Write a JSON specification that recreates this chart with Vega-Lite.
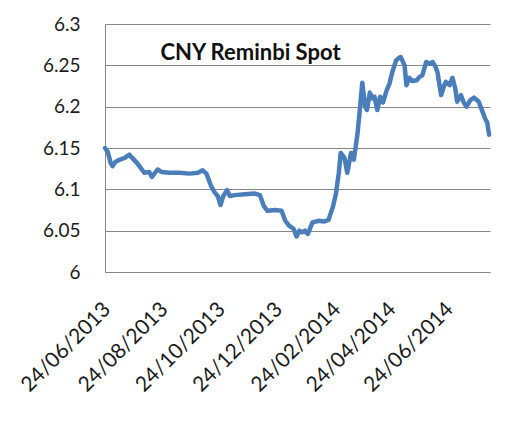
{
  "$schema": "https://vega.github.io/schema/vega-lite/v6.json",
  "width": 385,
  "height": 248,
  "autosize": "none",
  "padding": {"left": 105, "top": 24, "right": 37, "bottom": 159},
  "background": "white",
  "config": {
    "view": {"stroke": null},
    "font": "Lato",
    "axis": {"labelFont": "Lato", "labelColor": "#1a1a1a", "labelFontSize": 19, "ticks": false, "domainColor": "#868686", "gridColor": "#868686", "gridOpacity": 1, "gridWidth": 1, "title": null}
  },
  "datasets": {
    "cny": [
      {"date": "2013-06-24T00:00:00", "rate": 6.150},
      {"date": "2013-06-27T00:00:00", "rate": 6.145},
      {"date": "2013-06-30T00:00:00", "rate": 6.132},
      {"date": "2013-07-02T00:00:00", "rate": 6.128},
      {"date": "2013-07-05T00:00:00", "rate": 6.133},
      {"date": "2013-07-10T00:00:00", "rate": 6.136},
      {"date": "2013-07-15T00:00:00", "rate": 6.138},
      {"date": "2013-07-20T00:00:00", "rate": 6.142},
      {"date": "2013-07-23T00:00:00", "rate": 6.138},
      {"date": "2013-07-28T00:00:00", "rate": 6.132},
      {"date": "2013-08-01T00:00:00", "rate": 6.126},
      {"date": "2013-08-05T00:00:00", "rate": 6.120},
      {"date": "2013-08-10T00:00:00", "rate": 6.121},
      {"date": "2013-08-13T00:00:00", "rate": 6.115},
      {"date": "2013-08-15T00:00:00", "rate": 6.118},
      {"date": "2013-08-19T00:00:00", "rate": 6.124},
      {"date": "2013-08-23T00:00:00", "rate": 6.121},
      {"date": "2013-09-01T00:00:00", "rate": 6.120},
      {"date": "2013-09-11T00:00:00", "rate": 6.120},
      {"date": "2013-09-22T00:00:00", "rate": 6.119},
      {"date": "2013-10-01T00:00:00", "rate": 6.120},
      {"date": "2013-10-06T00:00:00", "rate": 6.123},
      {"date": "2013-10-10T00:00:00", "rate": 6.119},
      {"date": "2013-10-15T00:00:00", "rate": 6.104},
      {"date": "2013-10-19T00:00:00", "rate": 6.096},
      {"date": "2013-10-22T00:00:00", "rate": 6.092},
      {"date": "2013-10-25T00:00:00", "rate": 6.081},
      {"date": "2013-10-28T00:00:00", "rate": 6.092},
      {"date": "2013-11-01T00:00:00", "rate": 6.099},
      {"date": "2013-11-04T00:00:00", "rate": 6.092},
      {"date": "2013-11-09T00:00:00", "rate": 6.093},
      {"date": "2013-11-20T00:00:00", "rate": 6.094},
      {"date": "2013-11-30T00:00:00", "rate": 6.095},
      {"date": "2013-12-06T00:00:00", "rate": 6.093},
      {"date": "2013-12-10T00:00:00", "rate": 6.080},
      {"date": "2013-12-14T00:00:00", "rate": 6.074},
      {"date": "2013-12-22T00:00:00", "rate": 6.075},
      {"date": "2013-12-29T00:00:00", "rate": 6.074},
      {"date": "2014-01-02T00:00:00", "rate": 6.062},
      {"date": "2014-01-06T00:00:00", "rate": 6.056},
      {"date": "2014-01-11T00:00:00", "rate": 6.052},
      {"date": "2014-01-14T00:00:00", "rate": 6.043},
      {"date": "2014-01-17T00:00:00", "rate": 6.050},
      {"date": "2014-01-20T00:00:00", "rate": 6.048},
      {"date": "2014-01-23T00:00:00", "rate": 6.050},
      {"date": "2014-01-26T00:00:00", "rate": 6.046},
      {"date": "2014-01-31T00:00:00", "rate": 6.060},
      {"date": "2014-02-07T00:00:00", "rate": 6.062},
      {"date": "2014-02-12T00:00:00", "rate": 6.061},
      {"date": "2014-02-17T00:00:00", "rate": 6.063},
      {"date": "2014-02-22T00:00:00", "rate": 6.080},
      {"date": "2014-02-25T00:00:00", "rate": 6.095},
      {"date": "2014-02-28T00:00:00", "rate": 6.120},
      {"date": "2014-03-02T00:00:00", "rate": 6.144},
      {"date": "2014-03-06T00:00:00", "rate": 6.138},
      {"date": "2014-03-09T00:00:00", "rate": 6.120},
      {"date": "2014-03-13T00:00:00", "rate": 6.144},
      {"date": "2014-03-16T00:00:00", "rate": 6.136},
      {"date": "2014-03-20T00:00:00", "rate": 6.168},
      {"date": "2014-03-23T00:00:00", "rate": 6.204},
      {"date": "2014-03-25T00:00:00", "rate": 6.229},
      {"date": "2014-03-28T00:00:00", "rate": 6.200},
      {"date": "2014-03-30T00:00:00", "rate": 6.196},
      {"date": "2014-04-02T00:00:00", "rate": 6.217},
      {"date": "2014-04-05T00:00:00", "rate": 6.210},
      {"date": "2014-04-07T00:00:00", "rate": 6.212},
      {"date": "2014-04-10T00:00:00", "rate": 6.196},
      {"date": "2014-04-13T00:00:00", "rate": 6.212},
      {"date": "2014-04-16T00:00:00", "rate": 6.205},
      {"date": "2014-04-20T00:00:00", "rate": 6.220},
      {"date": "2014-04-23T00:00:00", "rate": 6.228},
      {"date": "2014-04-26T00:00:00", "rate": 6.242},
      {"date": "2014-04-30T00:00:00", "rate": 6.256},
      {"date": "2014-05-03T00:00:00", "rate": 6.259},
      {"date": "2014-05-05T00:00:00", "rate": 6.260},
      {"date": "2014-05-09T00:00:00", "rate": 6.250},
      {"date": "2014-05-11T00:00:00", "rate": 6.226},
      {"date": "2014-05-14T00:00:00", "rate": 6.235},
      {"date": "2014-05-17T00:00:00", "rate": 6.231},
      {"date": "2014-05-22T00:00:00", "rate": 6.232},
      {"date": "2014-05-25T00:00:00", "rate": 6.236},
      {"date": "2014-05-28T00:00:00", "rate": 6.238},
      {"date": "2014-06-01T00:00:00", "rate": 6.254},
      {"date": "2014-06-05T00:00:00", "rate": 6.252},
      {"date": "2014-06-08T00:00:00", "rate": 6.254},
      {"date": "2014-06-11T00:00:00", "rate": 6.248},
      {"date": "2014-06-13T00:00:00", "rate": 6.242},
      {"date": "2014-06-17T00:00:00", "rate": 6.214},
      {"date": "2014-06-20T00:00:00", "rate": 6.225},
      {"date": "2014-06-22T00:00:00", "rate": 6.230},
      {"date": "2014-06-26T00:00:00", "rate": 6.226},
      {"date": "2014-06-29T00:00:00", "rate": 6.235},
      {"date": "2014-07-02T00:00:00", "rate": 6.222},
      {"date": "2014-07-04T00:00:00", "rate": 6.206},
      {"date": "2014-07-08T00:00:00", "rate": 6.214},
      {"date": "2014-07-11T00:00:00", "rate": 6.205},
      {"date": "2014-07-14T00:00:00", "rate": 6.200},
      {"date": "2014-07-18T00:00:00", "rate": 6.208},
      {"date": "2014-07-22T00:00:00", "rate": 6.211},
      {"date": "2014-07-25T00:00:00", "rate": 6.208},
      {"date": "2014-07-27T00:00:00", "rate": 6.206},
      {"date": "2014-07-31T00:00:00", "rate": 6.194},
      {"date": "2014-08-03T00:00:00", "rate": 6.185},
      {"date": "2014-08-05T00:00:00", "rate": 6.181},
      {"date": "2014-08-07T00:00:00", "rate": 6.166}
    ]
  },
  "layer": [
    {
      "data": {"name": "cny"},
      "mark": {"type": "line", "color": "#4a7ebb", "strokeWidth": 4.5, "strokeJoin": "round", "strokeCap": "round"},
      "encoding": {
        "x": {
          "field": "date", "type": "temporal",
          "scale": {"domain": [{"year": 2013, "month": "jun", "date": 24}, {"year": 2014, "month": "aug", "date": 8}], "nice": false},
          "axis": {
            "values": [
              {"year": 2013, "month": "jun", "date": 24},
              {"year": 2013, "month": "aug", "date": 24},
              {"year": 2013, "month": "oct", "date": 24},
              {"year": 2013, "month": "dec", "date": 24},
              {"year": 2014, "month": "feb", "date": 24},
              {"year": 2014, "month": "apr", "date": 24},
              {"year": 2014, "month": "jun", "date": 24}
            ],
            "format": "%d/%m/%Y",
            "labelAngle": -45,
            "labelAlign": "right",
            "labelBaseline": "middle",
            "labelPadding": 34,
            "labelOffset": 2,
            "labelFontSize": 21,
            "grid": false,
            "labelOverlap": false,
            "labelBound": false,
            "labelFlush": false
          }
        },
        "y": {
          "field": "rate", "type": "quantitative",
          "scale": {"domain": [6, 6.3], "nice": false, "zero": false},
          "axis": {
            "values": [6, 6.05, 6.1, 6.15, 6.2, 6.25, 6.3],
            "format": "~g",
            "labelPadding": 25,
            "grid": true
          }
        }
      }
    },
    {
      "data": {"values": [{"label": "CNY Reminbi Spot", "date": "2013-08-22T00:00:00", "rate": 6.265}]},
      "mark": {"type": "text", "align": "left", "baseline": "middle", "font": "Lato", "fontWeight": "bold", "fontSize": 22, "color": "#111111"},
      "encoding": {
        "x": {"field": "date", "type": "temporal"},
        "y": {"field": "rate", "type": "quantitative"},
        "text": {"field": "label"}
      }
    }
  ]
}
